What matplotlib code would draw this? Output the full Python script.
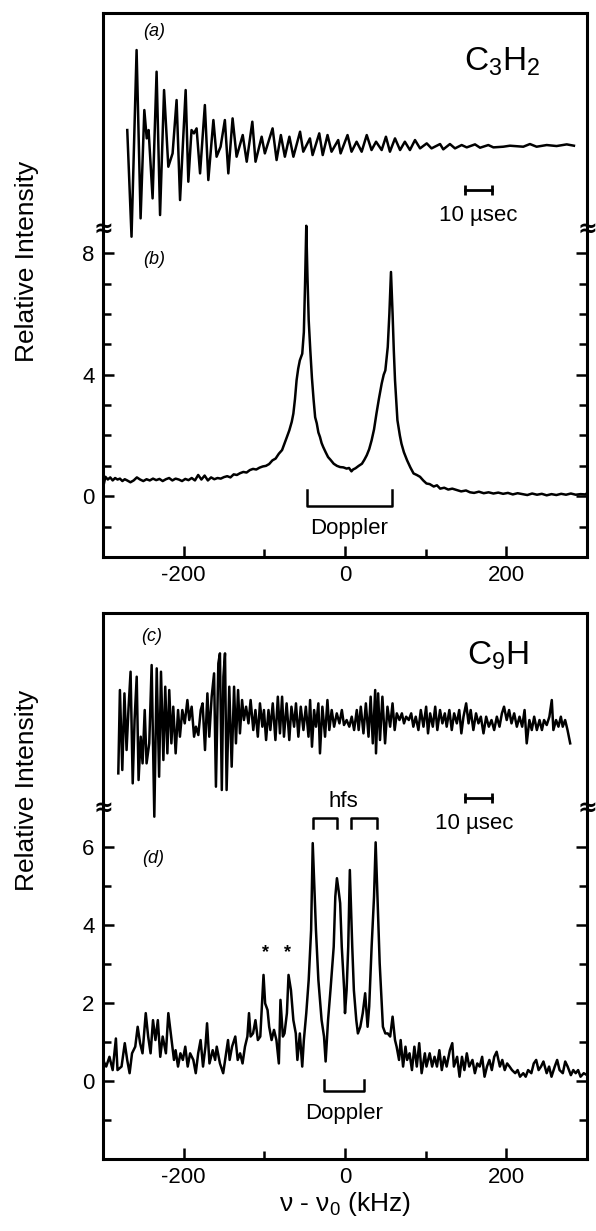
import matplotlib.pyplot as plt
import matplotlib.transforms as mtransforms
import numpy as np

plt.rcParams.update({
    'font.family': ['Liberation Sans', 'DejaVu Sans'],
    'font.size': 16,
    'mathtext.fontset': 'custom',
    'mathtext.rm': 'Liberation Sans',
    'mathtext.it': 'Liberation Sans:italic',
    'mathtext.default': 'regular',
    'axes.linewidth': 2.0,
    'axes.unicode_minus': False,
    'xtick.direction': 'in',
    'ytick.direction': 'in',
})

# ---- (a) C3H2 free induction decay: (time in usec, amplitude, arb.)
fid_a = [(0.0, 0.47), (1.6, -2.73), (3.5, 2.87), (5.0, -2.18), (6.4, 1.07), (7.3, 0.22),
         (8.0, 0.47), (9.5, -1.58), (11.0, 2.22), (12.3, -2.08), (13.8, 1.67), (15.4, -0.63),
         (17.0, -0.23), (18.5, 1.37), (19.8, -1.63), (21.9, 1.67), (22.9, -1.08), (24.1, 0.47),
         (25.0, 0.37), (26.0, 0.52), (27.3, -0.83), (29.1, 1.22), (30.4, -1.03), (32.3, 0.77),
         (33.5, -0.33), (35.0, -0.03), (36.6, 0.77), (37.9, -0.83), (39.5, 0.82), (41.0, -0.33),
         (43.3, 0.32), (44.8, -0.48), (46.9, 0.72), (48.1, -0.48), (50.4, 0.27), (51.6, -0.23),
         (54.5, 0.52), (56.0, -0.43), (57.6, 0.32), (59.1, -0.33), (60.8, 0.27), (62.3, -0.33),
         (64.8, 0.42), (66.0, -0.18), (68.5, 0.22), (69.5, -0.28), (72.0, 0.37), (73.3, -0.28),
         (75.1, 0.32), (76.6, -0.18), (79.1, 0.17), (80.0, -0.23), (82.6, 0.32), (84.1, -0.18),
         (86.0, 0.12), (87.9, -0.18), (89.8, 0.32), (91.6, -0.13), (93.3, 0.12), (95.4, -0.13),
         (97.0, 0.27), (98.5, -0.18), (100.4, 0.22), (102.3, -0.13), (104.1, 0.12), (106.0, -0.13),
         (107.9, 0.17), (109.8, -0.08), (112.3, 0.07), (114.1, -0.08), (117.3, 0.05), (118.5, -0.11),
         (121.0, 0.05), (122.9, -0.08), (125.4, 0.02), (127.3, -0.05), (130.4, 0.04), (132.3, -0.06),
         (135.4, 0.02), (137.3, -0.05), (141.0, -0.03), (143.5, 0.0), (148.5, -0.03), (151.0, 0.05),
         (153.5, -0.03), (157.3, 0.02), (161.0, -0.01), (164.8, 0.04), (167.5, 0.0)]

# ---- (b) C3H2 spectrum: (nu - nu0 in kHz, relative intensity)
spec_b = [(-300, 0.05), (-299, 0.40), (-297, 0.64), (-294, 0.55), (-291, 0.62), (-288, 0.52),
          (-285, 0.60), (-282, 0.55), (-279, 0.58), (-276, 0.50), (-273, 0.56), (-270, 0.52),
          (-266, 0.46), (-262, 0.52), (-258, 0.62), (-254, 0.55), (-250, 0.50), (-246, 0.56),
          (-242, 0.52), (-238, 0.58), (-234, 0.53), (-230, 0.57), (-226, 0.50), (-222, 0.56),
          (-218, 0.60), (-214, 0.52), (-210, 0.58), (-206, 0.55), (-202, 0.50), (-198, 0.57),
          (-194, 0.53), (-190, 0.60), (-186, 0.52), (-182, 0.70), (-178, 0.55), (-174, 0.68),
          (-170, 0.52), (-166, 0.62), (-162, 0.56), (-158, 0.60), (-154, 0.58), (-150, 0.63),
          (-146, 0.66), (-142, 0.62), (-138, 0.72), (-134, 0.70), (-130, 0.76), (-126, 0.80),
          (-122, 0.78), (-118, 0.86), (-114, 0.90), (-110, 0.88), (-106, 0.94), (-102, 0.98),
          (-98, 1.00), (-94, 1.06), (-90, 1.18), (-86, 1.24), (-82, 1.40), (-78, 1.52),
          (-75, 1.73), (-72, 1.95), (-69, 2.17), (-66, 2.45), (-64, 2.72), (-62, 3.20),
          (-60, 3.82), (-58, 4.20), (-56, 4.47), (-53, 4.69), (-51, 5.40), (-49.5, 7.00),
          (-48, 8.90), (-46.5, 7.20), (-45, 5.80), (-43, 4.80), (-41, 3.90), (-39, 3.20),
          (-37, 2.60), (-35, 2.40), (-33, 2.10), (-31, 1.95), (-29, 1.75), (-27, 1.62),
          (-24, 1.45), (-21, 1.29), (-18, 1.20), (-14, 1.07), (-10, 1.00), (-6, 0.96),
          (-2, 0.95), (2, 0.91), (5, 0.93), (8, 0.82), (10, 0.88), (13, 0.92), (17, 1.00),
          (21, 1.07), (24, 1.20), (27, 1.35), (30, 1.55), (33, 1.84), (36, 2.20), (39, 2.72),
          (42, 3.20), (45.5, 3.71), (48, 4.00), (50, 4.14), (53, 4.91), (55, 6.00), (57, 7.38),
          (59, 6.00), (60.5, 4.80), (62, 3.82), (65, 2.50), (68, 2.00), (70, 1.73), (73, 1.45),
          (77, 1.18), (81, 0.95), (85, 0.75), (89, 0.70), (93, 0.64), (97, 0.52), (101, 0.42),
          (105, 0.40), (110, 0.32), (114, 0.36), (118, 0.25), (123, 0.28), (128, 0.22),
          (133, 0.25), (139, 0.20), (144, 0.16), (150, 0.19), (155, 0.13), (160, 0.11),
          (166, 0.15), (172, 0.10), (178, 0.13), (184, 0.09), (190, 0.12), (196, 0.08),
          (202, 0.11), (208, 0.06), (214, 0.10), (220, 0.07), (226, 0.04), (232, 0.09),
          (238, 0.05), (244, 0.08), (250, 0.03), (256, 0.07), (262, 0.04), (268, 0.08),
          (274, 0.05), (280, 0.09), (286, 0.05), (292, 0.07), (298, 0.06), (300, 0.10)]

# ---- (c) C9H free induction decay: (time in usec, amplitude, arb.)
fid_c = [(0.0, -1.45), (0.6, 1.05), (1.5, -1.35), (2.3, 0.95), (3.1, -0.75), (3.8, 0.45),
         (4.6, 1.6), (5.4, -1.75), (6.1, 0.15), (6.9, 1.45), (7.6, -1.65), (8.4, -0.35),
         (9.1, -1.15), (9.9, 0.45), (10.6, -1.15), (11.6, -0.55), (12.5, 1.8), (13.5, -2.75),
         (14.4, 1.7), (15.3, -1.55), (16.0, 1.6), (16.9, -1.05), (17.6, 1.15), (18.4, -0.85),
         (19.1, 1.05), (19.9, -0.55), (20.6, 0.55), (21.5, -0.85), (22.4, 0.45), (23.1, -0.35),
         (24.0, 0.45), (24.9, 0.05), (25.9, 0.75), (26.6, 0.15), (27.5, 0.55), (28.4, -0.35),
         (29.1, -0.05), (30.0, -0.3), (30.9, 0.45), (31.6, 0.65), (32.5, -0.75), (33.4, 0.95),
         (34.1, -0.35), (35.0, 0.85), (35.9, 1.55), (36.6, -1.85), (37.5, 1.85), (38.1, 2.15),
         (38.8, -1.95), (39.4, 1.45), (40.0, 2.15), (40.6, -1.95), (41.6, 1.15), (42.5, -1.25),
         (43.4, 1.15), (44.1, -0.55), (44.9, 1.05), (45.6, -0.25), (46.4, 0.75), (47.1, 0.15),
         (47.9, 0.55), (48.8, 0.05), (49.6, 0.75), (50.6, -0.15), (51.4, 0.45), (52.3, -0.35),
         (53.1, 0.65), (54.0, -0.05), (54.6, 0.45), (55.4, -0.45), (56.3, 0.45), (57.0, -0.15),
         (57.9, 0.65), (58.9, -0.45), (59.8, 0.85), (60.6, -0.25), (61.4, 0.85), (62.1, -0.35),
         (63.1, 0.65), (64.1, -0.45), (64.9, 0.55), (65.9, -0.05), (66.6, 0.65), (67.5, -0.35),
         (68.4, 0.55), (69.4, -0.15), (70.3, 0.55), (71.3, -0.35), (71.9, 0.75), (72.6, -0.65),
         (73.4, 0.45), (74.1, -0.05), (75.0, 0.65), (75.6, -0.85), (76.5, 0.55), (77.5, -0.35),
         (78.4, 0.75), (79.1, -0.15), (80.0, 0.45), (80.9, -0.05), (81.9, 0.35), (82.9, 0.05),
         (83.8, 0.45), (84.6, 0.0), (85.6, 0.15), (86.6, -0.05), (87.5, 0.25), (88.4, -0.15),
         (89.4, 0.45), (90.1, -0.15), (90.9, 0.55), (91.9, -0.25), (92.8, 0.65), (93.8, -0.35),
         (94.6, 0.85), (95.4, -0.55), (96.3, 1.05), (96.6, -0.85), (97.4, 0.95), (98.1, -0.45),
         (99.0, 0.85), (100.0, -0.55), (100.9, 0.55), (101.9, -0.05), (102.8, 0.65), (103.6, -0.15),
         (104.4, 0.35), (105.4, 0.15), (106.3, 0.35), (107.1, 0.05), (107.9, 0.25), (108.9, 0.15),
         (109.8, 0.35), (110.6, -0.05), (111.5, 0.25), (112.5, -0.15), (113.4, 0.45), (114.4, -0.05),
         (115.4, 0.55), (116.1, -0.25), (116.9, 0.35), (117.9, -0.05), (118.8, 0.55), (119.6, -0.15),
         (120.6, 0.45), (121.5, 0.05), (122.4, 0.35), (123.1, -0.05), (124.1, 0.45), (125.0, -0.15),
         (125.9, 0.35), (126.9, 0.05), (127.8, 0.45), (128.6, -0.25), (129.4, 0.25), (130.4, 0.65),
         (131.3, 0.05), (132.1, 0.45), (133.1, -0.15), (134.1, 0.35), (135.0, 0.05), (135.9, 0.25),
         (136.9, -0.25), (137.9, 0.25), (138.9, -0.05), (139.9, 0.15), (140.9, -0.15), (141.9, 0.25),
         (142.9, -0.05), (143.8, 0.35), (144.6, 0.55), (145.6, 0.15), (146.5, 0.45), (147.4, 0.05),
         (148.4, 0.35), (149.4, -0.05), (150.4, 0.25), (151.4, -0.05), (152.3, 0.45), (153.1, -0.55),
         (154.1, 0.15), (155.0, -0.15), (155.9, 0.25), (156.9, -0.15), (157.9, 0.15), (158.8, -0.15),
         (159.6, 0.15), (160.6, 0.0), (161.6, 0.25), (162.5, 0.75), (163.1, -0.15), (164.1, 0.15),
         (165.0, -0.05), (165.9, 0.25), (166.6, -0.05), (167.5, 0.15), (168.4, -0.15), (169.4, -0.55)]

# ---- (d) C9H spectrum: (nu - nu0 in kHz, relative intensity)
spec_d = [(-300, 0.54), (-296, 0.37), (-292, 0.62), (-288, 0.28), (-284, 1.09), (-282, 0.28),
          (-277, 0.37), (-273, 0.97), (-270, 0.54), (-267, 0.20), (-264, 0.71), (-260, 0.88),
          (-257, 1.39), (-254, 0.97), (-251, 0.71), (-247, 1.74), (-244, 1.14), (-241, 0.71),
          (-238, 1.56), (-235, 1.05), (-232, 1.56), (-229, 0.62), (-226, 1.14), (-222, 0.71),
          (-219, 1.74), (-215, 1.05), (-212, 0.54), (-210, 0.79), (-207, 0.37), (-204, 0.71),
          (-201, 0.54), (-198, 0.88), (-195, 0.37), (-192, 0.71), (-188, 0.54), (-185, 0.20),
          (-182, 0.71), (-179, 1.05), (-176, 0.37), (-173, 0.88), (-171, 1.48), (-168, 0.45),
          (-164, 0.79), (-161, 0.54), (-159, 0.88), (-155, 0.45), (-151, 0.20), (-148, 0.62),
          (-145, 1.05), (-143, 0.54), (-140, 0.88), (-136, 1.14), (-133, 0.54), (-130, 0.71),
          (-127, 0.45), (-124, 0.88), (-121, 1.14), (-119, 1.74), (-117, 1.14), (-114, 1.22),
          (-111, 1.56), (-108, 1.05), (-105, 1.14), (-101, 2.72), (-99, 1.99), (-96, 1.82),
          (-94, 1.39), (-91, 1.05), (-88, 1.31), (-85, 1.05), (-82, 0.45), (-80, 2.08),
          (-77, 1.14), (-75, 1.22), (-72, 1.74), (-70, 2.72), (-67, 2.33), (-64, 1.56),
          (-61, 1.22), (-59, 0.54), (-56, 1.22), (-53, 0.37), (-51, 1.05), (-48, 1.74),
          (-45, 2.59), (-42, 3.87), (-40, 6.10), (-36, 3.87), (-33, 2.59), (-29, 1.56),
          (-26, 1.14), (-24, 0.50), (-21, 1.56), (-18, 2.33), (-14, 3.44), (-12, 4.73),
          (-10, 5.20), (-8, 4.90), (-6, 4.56), (-4, 3.44), (-1, 2.33), (0, 1.74), (2, 2.33),
          (4, 3.44), (6, 5.41), (9, 3.44), (11, 2.33), (14, 1.56), (16, 1.22), (19, 1.39),
          (22, 1.74), (25, 2.25), (28, 1.39), (30, 1.91), (33, 3.44), (36, 4.73), (38, 6.12),
          (41, 4.30), (43, 3.02), (47, 1.39), (50, 1.22), (53, 1.22), (56, 1.14), (59, 1.65),
          (62, 1.05), (64, 0.88), (67, 0.54), (69, 1.05), (72, 0.37), (75, 0.88), (77, 0.54),
          (80, 0.71), (83, 0.28), (86, 0.88), (89, 0.37), (92, 0.97), (95, 0.20), (99, 0.71),
          (101, 0.37), (105, 0.71), (108, 0.37), (111, 0.62), (114, 0.37), (117, 0.79),
          (120, 0.28), (123, 0.62), (126, 0.37), (130, 0.79), (133, 0.97), (135, 0.37),
          (139, 0.62), (142, 0.11), (145, 0.62), (148, 0.28), (151, 0.71), (154, 0.37),
          (158, 0.54), (161, 0.20), (164, 0.45), (167, 0.37), (170, 0.62), (173, 0.11),
          (176, 0.37), (179, 0.54), (182, 0.28), (185, 0.62), (188, 0.75), (192, 0.37),
          (195, 0.54), (198, 0.28), (201, 0.45), (204, 0.37), (207, 0.28), (211, 0.20),
          (214, 0.28), (217, 0.11), (221, 0.20), (224, 0.11), (227, 0.28), (231, 0.20),
          (234, 0.45), (237, 0.54), (240, 0.28), (243, 0.37), (246, 0.50), (250, 0.20),
          (253, 0.37), (256, 0.11), (260, 0.37), (263, 0.54), (266, 0.28), (270, 0.20),
          (273, 0.50), (276, 0.37), (280, 0.15), (283, 0.28), (286, 0.20), (289, 0.28),
          (292, 0.11), (296, 0.20), (300, 0.15)]

# annotation values (kHz / intensity)
doppler_b = (-47.6, 58.0)
doppler_d = (-25.7, 23.6)
hfs_pairs = [(-39.3, -9.5), (7.0, 40.2)]
star_freqs = [-99, -71]

fig = plt.figure(figsize=(5.96, 12.31), dpi=100)
LW = 1.8


def spectrum_axes(rect, ylim, major, minor):
    ax = fig.add_axes(rect)
    ax.set_xlim(-300, 300)
    ax.set_ylim(*ylim)
    ax.set_xticks([-200, 0, 200])
    ax.set_xticklabels(['-200', '0', '200'])
    ax.set_xticks([-100, 100], minor=True)
    ax.set_yticks(major)
    ax.set_yticklabels([str(v) for v in major])
    ax.set_yticks(minor, minor=True)
    ax.tick_params(which='both', left=True, right=True, top=False, bottom=True,
                   width=1.8, labelsize=16)
    ax.tick_params(which='major', length=8, pad=6)
    ax.tick_params(which='minor', length=6)
    for sp in ax.spines.values():
        sp.set_linewidth(2.2)
    return ax


def overlay_axes(rect, xlim, ylim):
    ax = fig.add_axes(rect)
    ax.set_xlim(*xlim)
    ax.set_ylim(*ylim)
    ax.axis('off')
    ax.patch.set_alpha(0)
    return ax


def break_marks(ax, y):
    trans = mtransforms.blended_transform_factory(ax.transAxes, ax.transData)
    for xa in (0, 1):
        ax.text(xa, y, '\u2248', transform=trans, ha='center', va='center',
                fontsize=17, fontweight='bold', family=['DejaVu Sans'], zorder=6)


def bracket(ax, x0, x1, y_open, y_base):
    ax.plot([x0, x0, x1, x1], [y_open, y_base, y_base, y_open], color='black', lw=1.8)


# ------------------------------------------------------------- top panel
rect_top = [0.1728, 0.5475, 0.8121, 0.4419]
ax1 = spectrum_axes(rect_top, (-2, 15.9), [0, 4, 8], [-1, 1, 2, 3, 5, 6, 7])
xb, yb = np.array(spec_b).T
ax1.plot(xb, yb, color='black', lw=LW)
bracket(ax1, doppler_b[0], doppler_b[1], 0.22, -0.31)
ax1.text(np.mean(doppler_b), -1.05, 'Doppler', ha='center', va='center', fontsize=16)
ax1.text(-236, 15.3, '(a)', ha='center', va='center', fontsize=13, style='italic')
ax1.text(-236, 7.8, '(b)', ha='center', va='center', fontsize=13, style='italic')
ax1.text(195, 14.3, 'C$_3$H$_2$', ha='center', va='center', fontsize=24)
ax1.text(-0.157, 0.544, 'Relative Intensity', transform=ax1.transAxes, rotation=90,
         ha='center', va='center', fontsize=19)
break_marks(ax1, 8.8)

fa = overlay_axes(rect_top, (-9.1, 172.4), (-12.34, 3.98))
ta, aa = np.array(fid_a).T
fa.plot(ta, aa, color='black', lw=LW)
fa.plot([126.6, 136.6], [-1.33, -1.33], color='black', lw=2.0, marker='|', markersize=7, mew=2.0)
fa.text(131.6, -2.08, '10 \u00b5sec', ha='center', va='center', fontsize=16)

# ---------------------------------------------------------- bottom panel
rect_bot = [0.1728, 0.0585, 0.8121, 0.4435]
ax2 = spectrum_axes(rect_bot, (-2, 12), [0, 2, 4, 6], [-1, 1, 3, 5])
xd, yd = np.array(spec_d).T
ax2.plot(xd, yd, color='black', lw=LW)
bracket(ax2, doppler_d[0], doppler_d[1], 0.03, -0.26)
ax2.text(np.mean(doppler_d), -0.83, 'Doppler', ha='center', va='center', fontsize=16)
for x0, x1 in hfs_pairs:
    bracket(ax2, x0, x1, 6.48, 6.74)
ax2.text(-2, 7.16, 'hfs', ha='center', va='center', fontsize=16)
for xs in star_freqs:
    ax2.text(xs, 3.3, '*', ha='center', va='center', fontsize=13, fontweight='bold')
ax2.text(-240, 11.4, '(c)', ha='center', va='center', fontsize=13, style='italic')
ax2.text(-238, 5.7, '(d)', ha='center', va='center', fontsize=13, style='italic')
ax2.text(189, 10.9, 'C$_9$H', ha='center', va='center', fontsize=24)
ax2.text(-0.157, 0.676, 'Relative Intensity', transform=ax2.transAxes, rotation=90,
         ha='center', va='center', fontsize=19)
ax2.set_xlabel('\u03bd - \u03bd$_0$ (kHz)', fontsize=19, labelpad=1)
break_marks(ax2, 7.0)

fc = overlay_axes(rect_bot, (-5.74, 175.7), (-13.02, 3.36))
tc, ac = np.array(fid_c).T
fc.plot(tc, ac, color='black', lw=LW)
fc.plot([130, 140], [-2.2, -2.2], color='black', lw=2.0, marker='|', markersize=7, mew=2.0)
fc.text(133.5, -2.95, '10 \u00b5sec', ha='center', va='center', fontsize=16)

fig.savefig('out.png', dpi=100)
plt.close(fig)
